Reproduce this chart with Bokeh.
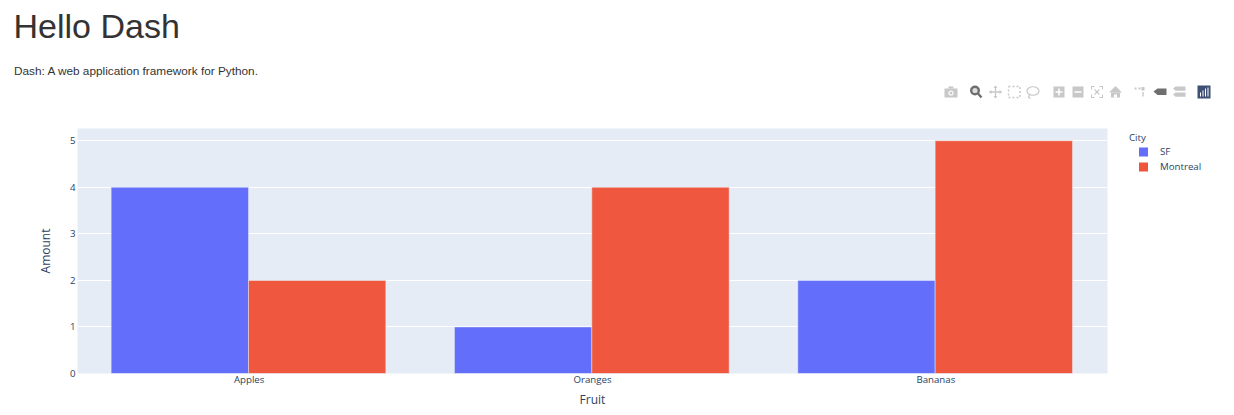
from bokeh.plotting import figure
from bokeh.models import (FactorRange, Range1d, Legend, LegendItem, ColumnDataSource, FixedTicker)
from bokeh.core.properties import value
from bokeh.transform import dodge
from bokeh.embed import file_html
from bokeh.resources import INLINE

fruits = ["Apples", "Oranges", "Bananas"]
sf = [4, 1, 2]
montreal = [2, 4, 5]
heading = "Hello Dash"
subtitle = "Dash: A web application framework for Python."
TXT = "#2a3f5f"
PLOT_FONT = "Open Sans"
SF_COLOR = "#636EFA"
MTL_COLOR = "#EF553B"

src = ColumnDataSource(dict(fruit=fruits, sf=sf, montreal=montreal))
p = figure(x_range=FactorRange(factors=fruits, range_padding=0, factor_padding=0),
           y_range=Range1d(0, 5.263), width=1234, height=315, frame_width=1030, frame_height=245,
           min_border_left=77, min_border_right=127, min_border_top=28, min_border_bottom=42,
           output_backend="svg", toolbar_location=None, background_fill_color="#E5ECF6",
           border_fill_color="white", outline_line_color=None)

p.vbar(x=dodge("fruit", -0.202, range=p.x_range), top="sf", bottom=0, width=0.4, source=src,
       fill_color=SF_COLOR, line_color="#E5ECF6", line_width=0.5)
p.vbar(x=dodge("fruit", 0.198, range=p.x_range), top="montreal", bottom=0, width=0.4, source=src,
       fill_color=MTL_COLOR, fill_alpha=0.98, line_color="#E5ECF6", line_width=0.5)

p.xgrid.visible = False
p.ygrid.grid_line_color = "white"
p.ygrid.grid_line_width = 1
p.ygrid.level = "underlay"
p.yaxis.ticker = FixedTicker(ticks=[0, 1, 2, 3, 4, 5])
for ax in (p.xaxis[0], p.yaxis[0]):
    ax.axis_line_color = None
    ax.major_tick_line_color = None
    ax.minor_tick_line_color = None
    ax.major_tick_out = 0
    ax.major_tick_in = 0
    ax.minor_tick_out = 0
    ax.major_label_text_color = TXT
    ax.major_label_text_font = PLOT_FONT
    ax.major_label_text_font_size = "9.7px"
    ax.axis_label_text_color = TXT
    ax.axis_label_text_font = PLOT_FONT
    ax.axis_label_text_font_size = "12px"
    ax.axis_label_text_font_style = "normal"
p.xaxis[0].axis_label = "Fruit"
p.yaxis[0].axis_label = "Amount"
p.xaxis[0].major_label_standoff = -1
p.yaxis[0].major_label_standoff = 2
p.xaxis[0].axis_label_standoff = 2
p.yaxis[0].axis_label_standoff = 13

# legend swatches only: these two squares sit below the axis and are clipped by the frame
s1 = p.scatter(x=["Apples"], y=[-1], marker="square", size=6, fill_color=SF_COLOR,
               line_color=SF_COLOR, line_width=3, line_join="miter")
s2 = p.scatter(x=["Apples"], y=[-1], marker="square", size=6, fill_color=MTL_COLOR,
               line_color=MTL_COLOR, line_width=3, line_join="miter")
legend = Legend(items=[LegendItem(label="SF", renderers=[s1]), LegendItem(label="Montreal", renderers=[s2])],
                title="City", location=(22, 199), orientation="vertical",
                border_line_color=None, background_fill_alpha=0,
                label_text_font=PLOT_FONT, label_text_font_size="9.7px", label_text_color=TXT,
                title_text_font=PLOT_FONT, title_text_font_size="9.7px", title_text_color=TXT,
                title_text_font_style="normal", glyph_width=28, glyph_height=15,
                label_standoff=3, spacing=0, padding=2, margin=0, title_standoff=-4)
p.add_layout(legend, "right")

# header strip: its data units are page pixels
h = figure(x_range=Range1d(0, 1234), y_range=Range1d(100, 0), width=1234, height=100,
           min_border=0, x_axis_location=None, y_axis_location=None,
           output_backend="svg", toolbar_location=None, outline_line_color=None)
h.grid.visible = False
h.text(x=[13], y=[25], text=[heading], text_font=value("Liberation Sans"), text_font_size="34px",
       text_color="#333333", text_baseline="alphabetic")
h.text(x=[13.5], y=[70], text=[subtitle], text_font=value("Liberation Sans"), text_font_size="11.8px",
       text_color="#333333", text_baseline="alphabetic")

GREY = "#c8c8c8"
DARK = "#6f6f6f"
LOGO = "#3f4f75"
def q(l, t, r, b, color=GREY):
    h.quad(left=[l], right=[r], top=[t], bottom=[b], fill_color=color, line_color=None)
def ln(xs, ys, color=GREY, width=1.0, dash="solid"):
    h.line(x=xs, y=ys, line_color=color, line_width=width, line_dash=dash)

# camera
q(944, 88, 957, 97); q(948, 86, 953, 88)
h.circle(x=[950.5], y=[92.5], radius=2.6, fill_color="white", line_color=None)
h.circle(x=[950.5], y=[92.5], radius=1.5, fill_color=GREY, line_color=None)
# zoom
h.circle(x=[974.5], y=[90], radius=3.8, fill_color="#dddddd", line_color=DARK, line_width=2.4)
ln([977.5, 981], [93, 97], DARK, 2.4)
# pan
ln([989, 1001], [91.5, 91.5], GREY, 1.3); ln([995, 995], [85.5, 97.5], GREY, 1.3)
for xs, ys in [([988.5, 991, 991], [91.5, 89.5, 93.5]), ([1001.5, 999, 999], [91.5, 89.5, 93.5]),
               ([995, 993, 997], [85, 87.5, 87.5]), ([995, 993, 997], [98, 95.5, 95.5])]:
    h.patch(x=xs, y=ys, fill_color=GREY, line_color=None)
# box select
ln([1008, 1019.5, 1019.5, 1008, 1008], [86, 86, 97, 97, 86], GREY, 1.4, "2 2")
# lasso
h.ellipse(x=[1032.5], y=[90.5], width=12, height=8.5, fill_color=None, line_color=GREY, line_width=1.2)
ln([1029, 1028, 1030], [94, 97, 98], GREY, 1.2)
# zoom in / out
q(1053, 86, 1064, 97); q(1055, 90.7, 1062, 92.3, "white"); q(1057.7, 88, 1059.3, 95, "white")
q(1072, 86, 1083, 97); q(1074, 90.7, 1081, 92.3, "white")
# autoscale
for xs, ys in [([1091, 1091, 1094], [89, 86, 86]), ([1099, 1102, 1102], [86, 86, 89]),
               ([1091, 1091, 1094], [94, 97, 97]), ([1099, 1102, 1102], [97, 97, 94]),
               ([1094, 1099], [89, 94]), ([1099, 1094], [89, 94])]:
    ln(xs, ys, GREY, 1.1)
# home
h.patch(x=[1115, 1108.5, 1121.5], y=[85.5, 92, 92], fill_color=GREY, line_color=None)
q(1110.5, 92, 1119.5, 97); q(1113.5, 94, 1116.5, 97, "white")
# spikes
q(1134, 87, 1136, 89); q(1138, 87, 1140, 89); q(1141, 86.5, 1144, 90); q(1141.8, 91.5, 1143.2, 96)
# hover closest / compare
h.patch(x=[1153, 1157, 1166, 1166, 1157], y=[91, 88, 88, 94.5, 94.5], fill_color=DARK, line_color=None)
h.patch(x=[1172.5, 1175, 1185, 1185, 1175], y=[88, 86, 86, 90.2, 90.2], fill_color=GREY, line_color=None)
h.patch(x=[1172.5, 1175, 1185, 1185, 1175], y=[94, 92, 92, 96.2, 96.2], fill_color=GREY, line_color=None)
# logo
q(1197, 85, 1210, 98, LOGO)
q(1199.5, 92, 1200.5, 96, "white"); q(1202, 90, 1203, 96, "white"); q(1204.5, 88, 1205.5, 96, "white"); q(1207, 87, 1208, 96, "white")

open("out.html", "w").write(file_html([h, p], INLINE))
